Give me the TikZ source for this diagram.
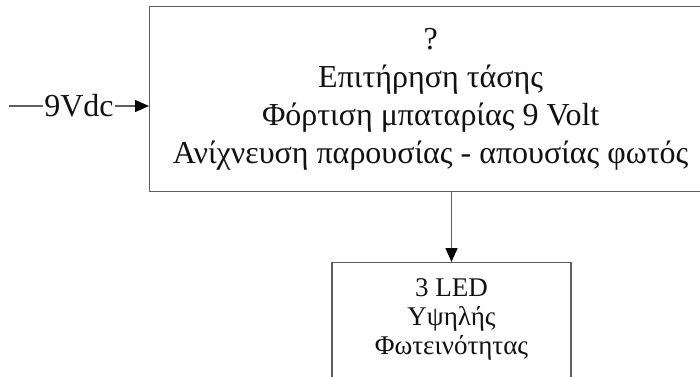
\documentclass[tikz,border=0pt]{standalone}
\usepackage{fontspec}
\setmainfont{Liberation Serif}
\usetikzlibrary{arrows.meta,positioning}
\definecolor{ink}{HTML}{111111}
\definecolor{edge}{HTML}{5E5E5E}
\tikzset{
  block/.style={draw=edge,line width=1.3pt,align=center,text=ink},
  btxt/.style={font=\fontsize{32}{38}\selectfont},
  stxt/.style={font=\fontsize{27}{29}\selectfont},
  wire/.style={edge,line width=1.3pt},
  flow/.style={wire,-{Triangle[length=14pt,width=12pt,color=black]}},
}
\begin{document}
\begin{tikzpicture}[x=1pt,y=-1pt]
  \clip (0,0) rectangle (700,376);
  % main block, right edge runs off the page
  \node[block,btxt,anchor=north west,minimum width=562pt,minimum height=185pt] (ctrl) at (149,6)
    {?\\ Επιτήρηση τάσης\\ Φόρτιση μπαταρίας 9 Volt\\ Ανίχνευση παρουσίας - απουσίας φωτός};
  % LED block, bottom edge runs off the page
  \node[block,stxt,anchor=north,inner xsep=10pt,inner ysep=16pt,minimum width=239pt,text depth=60pt] (led) at (451.5,262)
    {3 LED\\ Υψηλής\\ Φωτεινότητας};
  % supply input
  \coordinate (src) at (9,106);
  \node[btxt,text=ink,inner sep=1pt] (vin) at (79,106) {9Vdc};
  \draw[wire] (src) -- (vin);
  \draw[flow] (vin) -- (vin -| ctrl.west);
  \draw[flow] (led.north |- ctrl.south) -- (led.north);
\end{tikzpicture}
\end{document}
